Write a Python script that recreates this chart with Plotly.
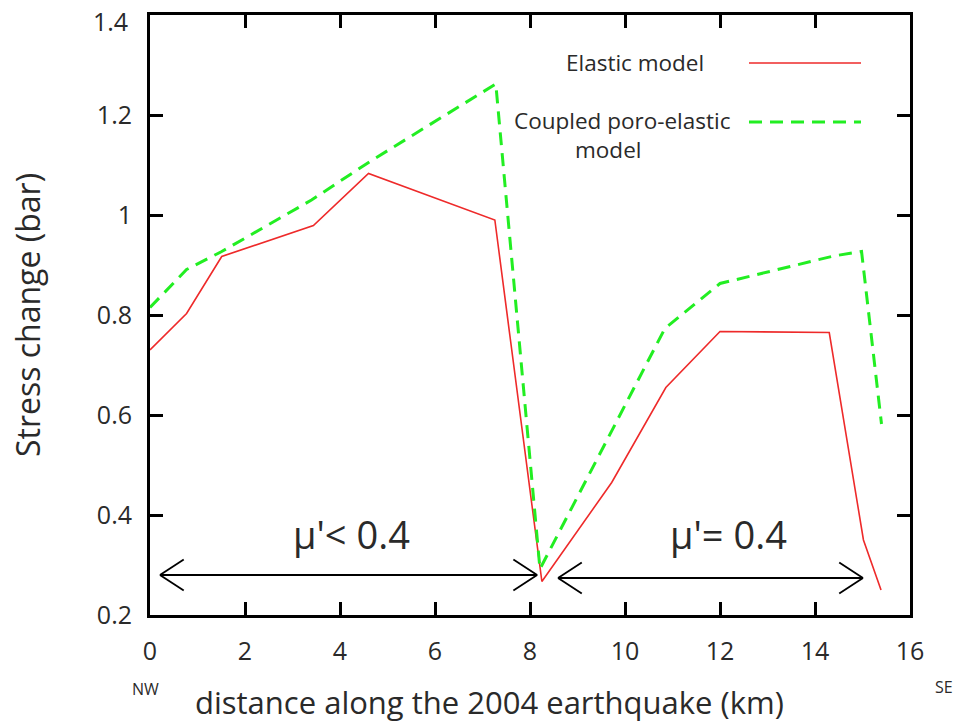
import plotly.graph_objects as go

# ---- data ----
elastic_x = [0.0, 0.77, 1.51, 3.44, 4.60, 7.26, 8.25, 9.72, 10.86, 12.0, 14.30, 15.02, 15.39]
elastic_y = [0.730, 0.803, 0.917, 0.979, 1.083, 0.990, 0.267, 0.465, 0.655, 0.767, 0.765, 0.350, 0.250]

coupled_x = [0.0, 0.77, 1.51, 3.40, 4.63, 7.28, 8.21, 10.84, 12.0, 14.39, 14.98, 15.40]
coupled_y = [0.815, 0.891, 0.927, 1.030, 1.107, 1.262, 0.292, 0.773, 0.863, 0.918, 0.927, 0.582]

x_ticks = [0, 2, 4, 6, 8, 10, 12, 14, 16]
y_ticks = [0.2, 0.4, 0.6, 0.8, 1.0, 1.2, 1.4]
y_tick_labels = ["0.2", "0.4", "0.6", "0.8", "1", "1.2", "1.4"]

# double-headed arrows: (x_start, x_end, y) and their labels
arrow_ranges = [(0.21, 8.15, 0.280), (8.59, 15.01, 0.274)]
arrow_labels = ["μ'< 0.4", "μ'= 0.4"]
label_x = [4.25, 12.17]
label_y = 0.362

FONT = "Open Sans"
TXT = "#2a2a2a"
RED = "#ee2a2a"
GREEN = "#22ee22"

W, H = 959, 727
L, R, T, B = 150, 49, 15, 112
PW, PH = W - L - R, H - T - B


def px_to_paper(px, py):
    return (px - L) / PW, (H - B - py) / PH


fig = go.Figure()
fig.add_trace(go.Scatter(x=elastic_x, y=elastic_y, mode="lines",
                         line=dict(color=RED, width=1.6), name="Elastic model",
                         showlegend=False))
fig.add_trace(go.Scatter(x=coupled_x, y=coupled_y, mode="lines",
                         line=dict(color=GREEN, width=3, dash="13px,8px"),
                         name="Coupled poro-elastic model", showlegend=False))

shapes = []
arm_dx, arm_dy = 0.5, 0.031
for (x0, x1, y) in arrow_ranges:
    ln = dict(color="black", width=1.8)
    shapes.append(dict(type="line", xref="x", yref="y", x0=x0, x1=x1, y0=y, y1=y, line=ln))
    for s in (1, -1):
        shapes.append(dict(type="line", xref="x", yref="y", x0=x0, y0=y,
                           x1=x0 + arm_dx, y1=y + s * arm_dy, line=ln))
        shapes.append(dict(type="line", xref="x", yref="y", x0=x1, y0=y,
                           x1=x1 - arm_dx, y1=y + s * arm_dy, line=ln))

# legend samples
lx0, ly_r = px_to_paper(749, 63)
lx1, ly_g = px_to_paper(861, 122)
shapes.append(dict(type="line", xref="paper", yref="paper", x0=lx0, x1=lx1,
                   y0=ly_r, y1=ly_r, line=dict(color=RED, width=1.6)))
shapes.append(dict(type="line", xref="paper", yref="paper", x0=lx0, x1=lx1,
                   y0=ly_g, y1=ly_g, line=dict(color=GREEN, width=3, dash="13px,8px")))

annotations = []
for t, lx in zip(arrow_labels, label_x):
    annotations.append(dict(x=lx, y=label_y, xref="x", yref="y", text=t, showarrow=False,
                            font=dict(family=FONT, size=38, color=TXT)))


def txt(px, py, text, size, anchor, rot=0):
    x, y = px_to_paper(px, py)
    return dict(x=x, y=y, xref="paper", yref="paper", text=text, xanchor=anchor,
                yanchor="middle", showarrow=False, textangle=rot,
                font=dict(family=FONT, size=size, color=TXT))


# the top tick label sits a little below its tick in the reference
top_label = y_tick_labels[-1]
tick_text = y_tick_labels[:-1] + [""]

annotations += [
    txt(706, 63, "Elastic model", 22.5, "right"),
    txt(733, 121, "Coupled poro-elastic", 22.5, "right"),
    txt(608, 149, "model", 22.5, "center"),
    txt(145, 689, "NW", 16, "center"),
    txt(944, 687, "SE", 16, "center"),
    txt(489, 702, "distance along the 2004 earthquake (km)", 31, "center"),
    txt(130, 21, top_label, 25, "right"),
]

axis_common = dict(showline=True, linewidth=3, linecolor="black", mirror="ticks",
                   ticks="inside", ticklen=13, tickwidth=3, tickcolor="black",
                   showgrid=False, zeroline=False, automargin=False,
                   ticklabeloverflow="allow",
                   tickfont=dict(family=FONT, size=25, color=TXT))

fig.update_layout(
    width=W, height=H,
    margin=dict(l=L, r=R, t=T, b=B, autoexpand=False),
    paper_bgcolor="white", plot_bgcolor="white",
    xaxis=dict(range=[0, 16], tickvals=x_ticks, ticklabelstandoff=12,
               **axis_common),
    yaxis=dict(range=[0.2, 1.4000001], tickvals=y_ticks, ticktext=tick_text,
               ticklabelstandoff=10,
               title=dict(text="Stress change (bar)",
                          font=dict(family=FONT, size=32, color=TXT), standoff=47),
               **axis_common),
    shapes=shapes, annotations=annotations,
)

fig.write_html("out.html", config={"displayModeBar": False},
               post_script="document.body.style.margin='0';document.body.style.overflow='hidden';")
